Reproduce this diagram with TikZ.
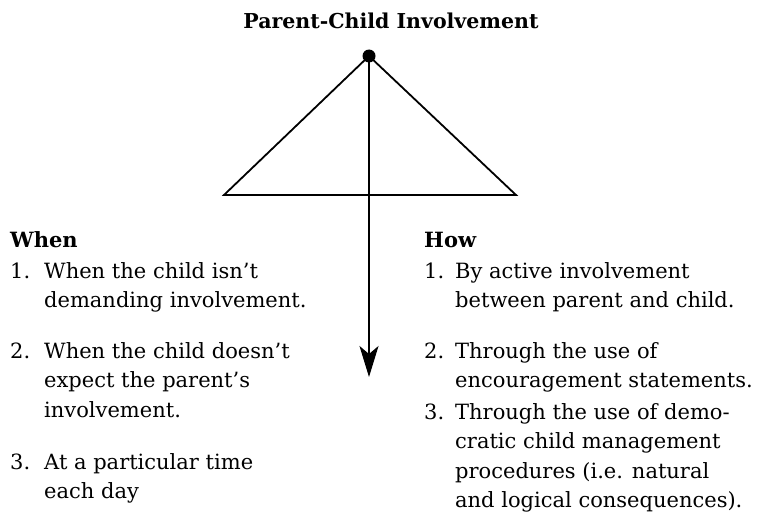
\documentclass[tikz,border=0pt]{standalone}
\usepackage{fontspec}
\setmainfont{DejaVu Serif}
\usetikzlibrary{arrows.meta,positioning,calc}

\tikzset{
    head/.style={font=\fontsize{21}{24}\selectfont\bfseries, inner sep=0pt},
    entry/.style={font=\fontsize{21}{29.5}\selectfont, align=left, inner sep=0pt, anchor=north west},
    num/.style={font=\fontsize{21}{29.5}\selectfont, inner sep=0pt, anchor=north west},
}

\begin{document}
\begin{tikzpicture}[x=1pt,y=-1pt]
            \useasboundingbox (0,0) rectangle (760,527);
            % top of the triangle
            \node[circle, fill, inner sep=0pt, minimum size=13pt] (top) at (369,56) {};
            \coordinate (bl) at (224,195);
            \coordinate (br) at (516,195);
            \coordinate (tip) at (369,377);
            \node[head, anchor=base, font=\fontsize{20.5}{24}\selectfont\bfseries] (title) at (391,29) {Parent-Child Involvement};
            \draw[line width=1.8pt] (top.center) -- (bl) -- (br) -- cycle;
            \draw[line width=1.8pt, -{Stealth[length=31pt,width=19pt,inset=8pt]}] (top.center) -- (tip);
            % left column
            \node[head, anchor=base west] (when) at (10,247) {When};
            \node[num] (wn1) at (10,257.35) {\strut 1.};
            \node[entry] (w1) at (44,257.35) {\strut When the child isn't\\demanding involvement.};
            \node[num] (wn2) at (10,337.35) {\strut 2.};
            \node[entry] (w2) at (44,337.35) {\strut When the child doesn't\\expect the parent's\\involvement.};
            \node[num] (wn3) at (10,448.35) {\strut 3.};
            \node[entry] (w3) at (44,448.35) {\strut At a particular time\\each day};
            % right column
            \node[head, anchor=base west] (how) at (424,247) {How};
            \node[num] (hn1) at (424,257.35) {\strut 1.};
            \node[entry] (h1) at (455,257.35) {\strut By active involvement\\between parent and child.};
            \node[num] (hn2) at (424,337.35) {\strut 2.};
            \node[entry] (h2) at (455,337.35) {\strut Through the use of\\encouragement statements.};
            \node[num] (hn3) at (424,398.35) {\strut 3.};
            \node[entry] (h3) at (455,398.35) {\strut Through the use of demo-\\cratic child management\\procedures (i.e. natural\\and logical consequences).};
        \end{tikzpicture}
\end{document}
